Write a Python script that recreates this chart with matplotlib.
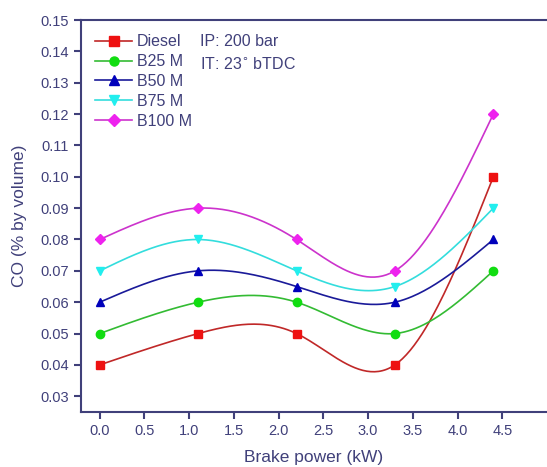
import numpy as np
import matplotlib
matplotlib.use("Agg")
import matplotlib.pyplot as plt

# Brake power (kW) and CO emissions (% by volume)
brake_power = [0.0, 1.1, 2.2, 3.3, 4.4]
co_diesel = [0.040, 0.050, 0.050, 0.040, 0.100]
co_b25 = [0.050, 0.060, 0.060, 0.050, 0.070]
co_b50 = [0.060, 0.070, 0.065, 0.060, 0.080]
co_b75 = [0.070, 0.080, 0.070, 0.065, 0.090]
co_b100 = [0.080, 0.090, 0.080, 0.070, 0.120]

series = [
    ("Diesel", co_diesel, "#ee1111", "#c02828", "s"),
    ("B25 M", co_b25, "#11dd11", "#33bb33", "o"),
    ("B50 M", co_b50, "#0000bb", "#1a1a99", "^"),
    ("B75 M", co_b75, "#22eeee", "#33dddd", "v"),
    ("B100 M", co_b100, "#ee22ee", "#cc33cc", "D"),
]


def natural_spline(x, y, n=200):
    # plain natural cubic spline, only used to draw the smooth connecting line
    x = np.asarray(x, float)
    y = np.asarray(y, float)
    k = len(x)
    h = np.diff(x)
    A = np.zeros((k, k))
    b = np.zeros(k)
    A[0, 0] = A[-1, -1] = 1.0
    for i in range(1, k - 1):
        A[i, i - 1] = h[i - 1]
        A[i, i] = 2 * (h[i - 1] + h[i])
        A[i, i + 1] = h[i]
        b[i] = 6 * ((y[i + 1] - y[i]) / h[i] - (y[i] - y[i - 1]) / h[i - 1])
    m = np.linalg.solve(A, b)
    xs = np.linspace(x[0], x[-1], n)
    idx = np.clip(np.searchsorted(x, xs) - 1, 0, k - 2)
    x0, x1 = x[idx], x[idx + 1]
    hh = x1 - x0
    t0, t1 = x1 - xs, xs - x0
    ys = (m[idx] * t0 ** 3 + m[idx + 1] * t1 ** 3) / (6 * hh) \
        + (y[idx] / hh - m[idx] * hh / 6) * t0 \
        + (y[idx + 1] / hh - m[idx + 1] * hh / 6) * t1
    return xs, ys


plt.rcParams["font.family"] = ["Liberation Sans", "DejaVu Sans"]
axis_col = "#40407a"

fig = plt.figure(figsize=(5.47, 4.67), dpi=100)
ax = fig.add_axes([0.148, 0.118, 0.852, 0.839])

handles = []
for name, vals, mcol, lcol, mk in series:
    xs, ys = natural_spline(brake_power, vals)
    ax.plot(xs, ys, color=lcol, lw=1.2, zorder=2)
    ax.plot(brake_power, vals, linestyle="none", marker=mk, color=mcol,
            markersize=6 if mk != "D" else 5.5, zorder=3)
    h, = ax.plot([], [], color=lcol, lw=1.2, marker=mk, markerfacecolor=mcol,
                 markeredgecolor=mcol, markersize=6.5 if mk != "D" else 6)
    handles.append((h, name))

leg = ax.legend([h for h, _ in handles], [n for _, n in handles],
                loc="upper left", bbox_to_anchor=(0.0, 1.0), frameon=False,
                fontsize=11.5, handlelength=2.3, handletextpad=0.3,
                labelspacing=0.3, borderaxespad=0.5)
for t in leg.get_texts():
    t.set_color(axis_col)

ax.text(0.255, 0.946, "IP: 200 bar", transform=ax.transAxes, fontsize=11.5,
        color=axis_col, va="center")
ax.text(0.255, 0.888, "IT: 23$^{\\circ}$ bTDC", transform=ax.transAxes, fontsize=11.5,
        color=axis_col, va="center")

ax.set_xlim(-0.21, 5.0)
ax.set_ylim(0.025, 0.15)
ax.set_xticks(np.arange(0, 4.51, 0.5))
ax.set_yticks(np.arange(0.03, 0.151, 0.01))
ax.xaxis.set_major_formatter(matplotlib.ticker.FormatStrFormatter("%.1f"))
ax.yaxis.set_major_formatter(matplotlib.ticker.FormatStrFormatter("%.2f"))

ax.spines["right"].set_visible(False)
for s in ["left", "bottom", "top"]:
    ax.spines[s].set_color(axis_col)
    ax.spines[s].set_linewidth(1.5)
ax.tick_params(direction="out", length=5, width=1.5, color=axis_col,
               labelcolor=axis_col, labelsize=10.5)

ax.set_xlabel("Brake power (kW)", fontsize=12.5, color=axis_col, labelpad=9)
ax.set_ylabel("CO (% by volume)", fontsize=12.5, color=axis_col, labelpad=10)

fig.savefig("out.png", dpi=100)
